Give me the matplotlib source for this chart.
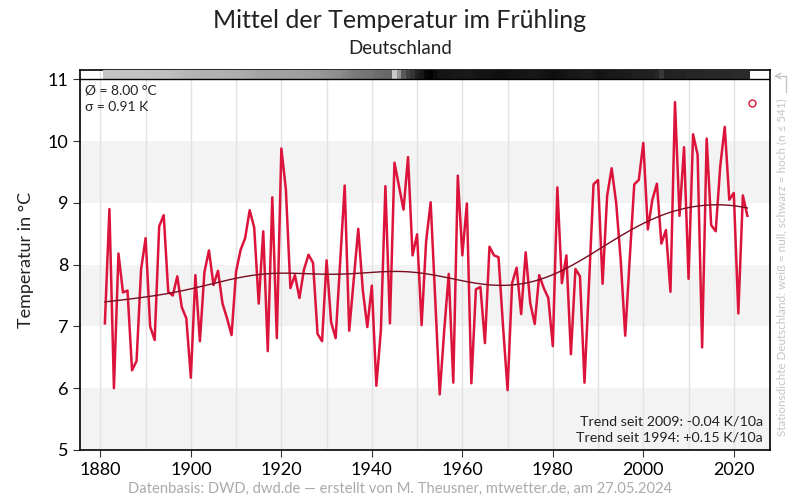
import numpy as np
import matplotlib
matplotlib.use("Agg")
import matplotlib.pyplot as plt
from matplotlib.ticker import MultipleLocator

plt.rcParams["font.family"] = ["Lato", "DejaVu Sans"]

# spring (MAM) mean temperature, Germany, 1881-2023
years = list(range(1881, 2024))
temps = [
    7.05, 8.90, 6.00, 8.18, 7.55, 7.58, 6.29, 6.44, 7.92, 8.43,
    7.00, 6.78, 8.62, 8.80, 7.56, 7.50, 7.81, 7.31, 7.13, 6.17,
    7.83, 6.76, 7.88, 8.23, 7.67, 7.90, 7.37, 7.13, 6.86, 7.89,
    8.24, 8.43, 8.88, 8.60, 7.37, 8.54, 6.60, 9.09, 6.81, 9.88,
    9.22, 7.62, 7.83, 7.46, 7.92, 8.16, 8.03, 6.88, 6.76, 8.07,
    7.07, 6.81, 8.05, 9.28, 6.93, 7.75, 8.58, 7.59, 6.99, 7.66,
    6.04, 6.94, 9.27, 7.05, 9.65, 9.27, 8.89, 9.74, 8.15, 8.49,
    7.02, 8.38, 9.01, 7.45, 5.90, 6.94, 7.85, 6.09, 9.44, 8.15,
    8.99, 6.08, 7.60, 7.64, 6.73, 8.29, 8.15, 8.12, 7.00, 5.97,
    7.70, 7.95, 7.20, 8.20, 7.38, 7.04, 7.83, 7.62, 7.46, 6.68,
    9.25, 7.70, 8.15, 6.55, 7.93, 7.81, 6.09, 7.70, 9.30, 9.37,
    7.69, 9.11, 9.56, 9.00, 8.08, 6.85, 8.10, 9.30, 9.37, 9.97,
    8.57, 9.05, 9.31, 8.34, 8.56, 7.56, 10.63, 8.79, 9.90, 7.77,
    10.11, 9.78, 6.66, 10.04, 8.64, 8.54, 9.59, 10.23, 9.05, 9.16,
    7.21, 9.12, 8.79,
]
current_year = 2024
current_temp = 10.62

# number of stations per year (strip on top)
stations = [
    125, 126, 127, 128, 128, 129, 130, 130, 131, 132,
    132, 133, 134, 135, 136, 140, 145, 150, 155, 158,
    160, 162, 163, 164, 165, 166, 167, 168, 170, 172,
    175, 180, 185, 190, 195, 197, 198, 199, 200, 200,
    200, 202, 204, 206, 208, 210, 212, 215, 220, 230,
    235, 240, 245, 255, 265, 280, 285, 290, 295, 300,
    310, 315, 320, 320, 110, 220, 350, 400, 430, 470,
    490, 525, 535, 515, 500, 495, 495, 490, 490, 490,
    485, 490, 495, 500, 500, 500, 505, 510, 510, 505,
    500, 500, 495, 495, 490, 490, 495, 500, 505, 510,
    505, 500, 495, 490, 490, 485, 480, 480, 490, 500,
    495, 490, 490, 485, 485, 480, 480, 475, 475, 475,
    470, 470, 460, 420, 470, 470, 465, 465, 465, 460,
    460, 460, 460, 455, 455, 455, 455, 455, 455, 450,
    450, 450, 450,
]
n_max = 541

mean_text = "Ø = 8.00 °C"
sigma_text = "σ = 0.91 K"
trend_lines = ["Trend seit 2009: -0.04 K/10a", "Trend seit 1994: +0.15 K/10a"]


def smooth(x, y, bw=11.5):
    # local linear regression with gaussian weights
    x = np.asarray(x, float)
    y = np.asarray(y, float)
    out = np.empty_like(y)
    for i, x0 in enumerate(x):
        w = np.exp(-0.5 * ((x - x0) / bw) ** 2)
        X = np.vstack([np.ones_like(x), x - x0]).T
        W = np.diag(w)
        beta = np.linalg.solve(X.T @ W @ X, X.T @ W @ y)
        out[i] = beta[0]
    return out


fig = plt.figure(figsize=(8, 5), dpi=100)
ax = fig.add_axes([0.1, 0.1, 0.8625, 0.76])

# background bands
for lo in (5, 7, 9):
    ax.axhspan(lo, lo + 1, color="#f3f3f3", lw=0, zorder=0)

# station density strip
xe = np.arange(years[0] - 0.5, years[-1] + 1.0, 1.0)
ye = np.array([11.0, 11.15])
ax.pcolormesh(xe, ye, np.array([stations]), cmap="gray_r", vmin=0, vmax=n_max,
              shading="flat", zorder=3)
ax.axhline(11.0, color="black", lw=1, zorder=4)

ax.plot(years, temps, color="#dc143c", lw=1.8, zorder=5)
ax.plot(years, smooth(years, temps), color="#7a0a1e", lw=1.0, zorder=6)
ax.plot([current_year], [current_temp], "o", ms=5, mfc="white", mec="#dc143c",
        mew=1.0, zorder=7)

ax.set_xlim(1875.5, 2028)
ax.set_ylim(5, 11.15)
ax.set_xticks(range(1880, 2021, 20))
ax.set_yticks(range(5, 12))
ax.xaxis.set_minor_locator(MultipleLocator(10))
ax.grid(which="both", axis="x", color="#e2e2e2", lw=1, zorder=1)
ax.set_axisbelow(True)
ax.tick_params(which="major", direction="out", length=5, labelsize=13, color="#333333")
ax.tick_params(which="minor", length=0)
for s in ax.spines.values():
    s.set_linewidth(1.2)
ax.set_ylabel("Temperatur in °C", fontsize=13, color="#222222", labelpad=10)

ax.text(0.007, 0.945, mean_text, transform=ax.transAxes, ha="left", va="center",
        fontsize=10, color="#222222", zorder=8)
ax.text(0.007, 0.903, sigma_text, transform=ax.transAxes, ha="left", va="center",
        fontsize=10, color="#222222", zorder=8)
ax.text(0.99, 0.076, trend_lines[0], transform=ax.transAxes, ha="right", va="center",
        fontsize=10.3, color="#222222", zorder=8)
ax.text(0.99, 0.032, trend_lines[1], transform=ax.transAxes, ha="right", va="center",
        fontsize=10.3, color="#222222", zorder=8)

fig.text(0.5, 0.96, "Mittel der Temperatur im Frühling", ha="center", va="center",
         fontsize=18, color="#222222")
fig.text(0.5, 0.904, "Deutschland", ha="center", va="center", fontsize=13.5,
         color="#222222")
fig.text(0.5, 0.022, "Datenbasis: DWD, dwd.de — erstellt von M. Theusner, mtwetter.de, am 27.05.2024",
         ha="center", va="center", fontsize=10.6, color="#aaaaaa")
fig.text(0.977, 0.465, "Stationsdichte Deutschland: weiß = null, schwarz = hoch (n ≤ 541)",
         rotation=90, ha="center", va="center", fontsize=8.4, color="#c4c4c4")
ax.annotate("", xy=(771, 424), xytext=(786, 405), xycoords="figure pixels",
            arrowprops=dict(arrowstyle="->", connectionstyle="angle,angleA=90,angleB=0,rad=0",
                            color="#c4c4c4", lw=1))

fig.savefig("out.png", dpi=100)
